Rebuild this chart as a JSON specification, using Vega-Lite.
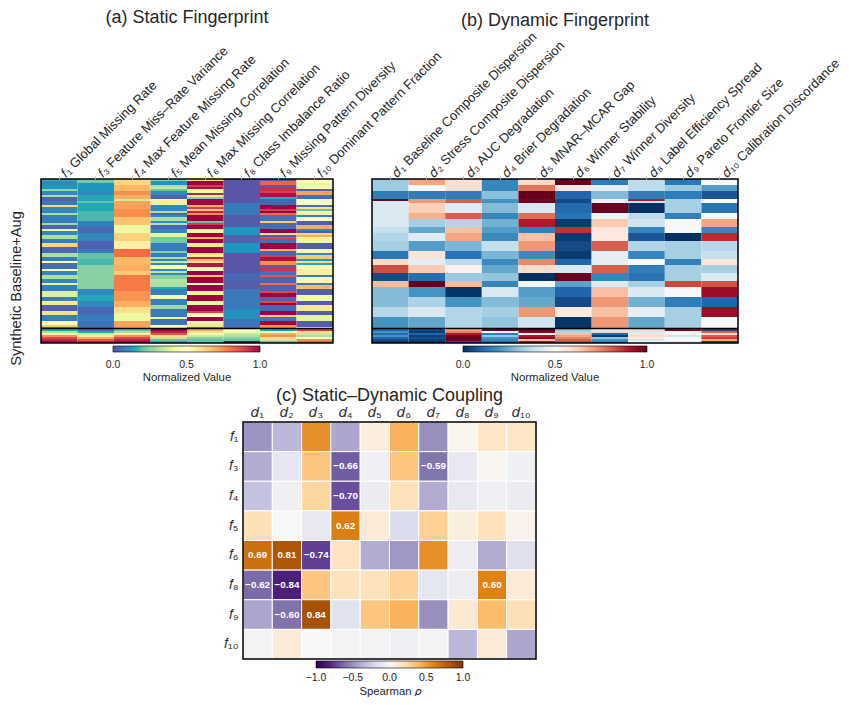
{"$schema":"https://vega.github.io/schema/vega-lite/v6.json","background":"white","padding":{"left":8,"top":9,"right":0,"bottom":0},"spacing":3,"resolve":{"scale":{"color":"independent"},"legend":{"color":"independent"}},"config":{"font":"Liberation Sans","view":{"stroke":null},"axis":{"labelColor":"#262626","titleColor":"#262626","labelFont":"Liberation Sans"},"legend":{"labelColor":"#262626","titleColor":"#262626"},"title":{"color":"#262626","font":"Liberation Sans","fontWeight":"normal","fontSize":18}},
"datasets":{
"staticCells":[
{"c":"f1","r0":0,"r1":1,"v":0.16},{"c":"f1","r0":1,"r1":3,"v":0.1},{"c":"f1","r0":3,"r1":5,"v":0.12},{"c":"f1","r0":5,"r1":6,"v":0.27},{"c":"f1","r0":6,"r1":8,"v":0.1},{"c":"f1","r0":8,"r1":9,"v":0.3},{"c":"f1","r0":9,"r1":11,"v":0.03},{"c":"f1","r0":11,"r1":13,"v":0.08},{"c":"f1","r0":13,"r1":14,"v":0.62},{"c":"f1","r0":14,"r1":17,"v":0.1},{"c":"f1","r0":17,"r1":18,"v":0.3},{"c":"f1","r0":18,"r1":22,"v":0.08},{"c":"f1","r0":22,"r1":23,"v":0.28},{"c":"f1","r0":23,"r1":25,"v":0.03},{"c":"f1","r0":25,"r1":26,"v":0.42},{"c":"f1","r0":26,"r1":28,"v":0.1},{"c":"f1","r0":28,"r1":30,"v":0.3},{"c":"f1","r0":30,"r1":32,"v":0.08},{"c":"f1","r0":32,"r1":34,"v":0.62},{"c":"f1","r0":34,"r1":37,"v":0.04},{"c":"f1","r0":37,"r1":39,"v":0.3},{"c":"f1","r0":39,"r1":41,"v":0.08},{"c":"f1","r0":41,"r1":42,"v":0.48},{"c":"f1","r0":42,"r1":45,"v":0.05},{"c":"f1","r0":45,"r1":46,"v":0.5},{"c":"f1","r0":46,"r1":48,"v":0.1},{"c":"f1","r0":48,"r1":50,"v":0.3},{"c":"f1","r0":50,"r1":52,"v":0.1},{"c":"f1","r0":52,"r1":53,"v":0.4},{"c":"f1","r0":53,"r1":56,"v":0.08},{"c":"f1","r0":56,"r1":59,"v":0.38},{"c":"f1","r0":59,"r1":61,"v":0.08},{"c":"f1","r0":61,"r1":63,"v":0.58},{"c":"f1","r0":63,"r1":66,"v":0.03},{"c":"f1","r0":66,"r1":68,"v":0.6},{"c":"f1","r0":68,"r1":71,"v":0.08},{"c":"f1","r0":71,"r1":73,"v":0.5},{"c":"f1","r0":73,"r1":74,"v":0.65},{"c":"f1","r0":74,"r1":75,"v":0.08},{"c":"f1","r0":75,"r1":76,"v":0.15},{"c":"f1","r0":76,"r1":77,"v":0.3},{"c":"f1","r0":77,"r1":78,"v":0.55},{"c":"f1","r0":78,"r1":79,"v":0.75},{"c":"f1","r0":79,"r1":80,"v":0.88},{"c":"f1","r0":80,"r1":81,"v":0.95},{"c":"f1","r0":81,"r1":82,"v":1},
{"c":"f3","r0":0,"r1":2,"v":0.22},{"c":"f3","r0":2,"r1":6,"v":0.12},{"c":"f3","r0":6,"r1":8,"v":0.1},{"c":"f3","r0":8,"r1":11,"v":0.15},{"c":"f3","r0":11,"r1":12,"v":0.2},{"c":"f3","r0":12,"r1":16,"v":0.15},{"c":"f3","r0":16,"r1":21,"v":0.18},{"c":"f3","r0":21,"r1":24,"v":0.08},{"c":"f3","r0":24,"r1":27,"v":0.04},{"c":"f3","r0":27,"r1":31,"v":0.1},{"c":"f3","r0":31,"r1":35,"v":0.03},{"c":"f3","r0":35,"r1":37,"v":0.07},{"c":"f3","r0":37,"r1":40,"v":0.2},{"c":"f3","r0":40,"r1":43,"v":0.18},{"c":"f3","r0":43,"r1":55,"v":0.25},{"c":"f3","r0":55,"r1":58,"v":0.1},{"c":"f3","r0":58,"r1":61,"v":0.15},{"c":"f3","r0":61,"r1":64,"v":0.1},{"c":"f3","r0":64,"r1":68,"v":0.04},{"c":"f3","r0":68,"r1":71,"v":0.08},{"c":"f3","r0":71,"r1":75,"v":0.06},{"c":"f3","r0":75,"r1":76,"v":0.05},{"c":"f3","r0":76,"r1":77,"v":0.15},{"c":"f3","r0":77,"r1":78,"v":0.35},{"c":"f3","r0":78,"r1":79,"v":0.55},{"c":"f3","r0":79,"r1":80,"v":0.7},{"c":"f3","r0":80,"r1":81,"v":0.85},{"c":"f3","r0":81,"r1":82,"v":0.95},
{"c":"f4","r0":0,"r1":3,"v":0.62},{"c":"f4","r0":3,"r1":6,"v":0.68},{"c":"f4","r0":6,"r1":8,"v":0.75},{"c":"f4","r0":8,"r1":10,"v":0.7},{"c":"f4","r0":10,"r1":11,"v":0.36},{"c":"f4","r0":11,"r1":15,"v":0.72},{"c":"f4","r0":15,"r1":19,"v":0.75},{"c":"f4","r0":19,"r1":23,"v":0.66},{"c":"f4","r0":23,"r1":27,"v":0.43},{"c":"f4","r0":27,"r1":31,"v":0.63},{"c":"f4","r0":31,"r1":35,"v":0.55},{"c":"f4","r0":35,"r1":39,"v":0.8},{"c":"f4","r0":39,"r1":43,"v":0.68},{"c":"f4","r0":43,"r1":46,"v":0.7},{"c":"f4","r0":46,"r1":48,"v":0.65},{"c":"f4","r0":48,"r1":56,"v":0.78},{"c":"f4","r0":56,"r1":61,"v":0.74},{"c":"f4","r0":61,"r1":64,"v":0.7},{"c":"f4","r0":64,"r1":67,"v":0.6},{"c":"f4","r0":67,"r1":71,"v":0.43},{"c":"f4","r0":71,"r1":75,"v":0.72},{"c":"f4","r0":75,"r1":76,"v":0.2},{"c":"f4","r0":76,"r1":77,"v":0.3},{"c":"f4","r0":77,"r1":78,"v":0.55},{"c":"f4","r0":78,"r1":79,"v":0.75},{"c":"f4","r0":79,"r1":80,"v":0.88},{"c":"f4","r0":80,"r1":81,"v":0.95},{"c":"f4","r0":81,"r1":82,"v":1},
{"c":"f5","r0":0,"r1":1,"v":0.25},{"c":"f5","r0":1,"r1":3,"v":0.12},{"c":"f5","r0":3,"r1":4,"v":0.3},{"c":"f5","r0":4,"r1":5,"v":0.35},{"c":"f5","r0":5,"r1":6,"v":0.2},{"c":"f5","r0":6,"r1":8,"v":0.1},{"c":"f5","r0":8,"r1":10,"v":0.03},{"c":"f5","r0":10,"r1":13,"v":0.55},{"c":"f5","r0":13,"r1":16,"v":0.1},{"c":"f5","r0":16,"r1":17,"v":0.3},{"c":"f5","r0":17,"r1":18,"v":0.03},{"c":"f5","r0":18,"r1":19,"v":0.1},{"c":"f5","r0":19,"r1":21,"v":0.3},{"c":"f5","r0":21,"r1":22,"v":0.1},{"c":"f5","r0":22,"r1":23,"v":0.32},{"c":"f5","r0":23,"r1":25,"v":0.03},{"c":"f5","r0":25,"r1":27,"v":0.1},{"c":"f5","r0":27,"r1":29,"v":0.4},{"c":"f5","r0":29,"r1":32,"v":0.22},{"c":"f5","r0":32,"r1":36,"v":0.08},{"c":"f5","r0":36,"r1":37,"v":0.25},{"c":"f5","r0":37,"r1":39,"v":0.08},{"c":"f5","r0":39,"r1":40,"v":0.3},{"c":"f5","r0":40,"r1":41,"v":0.1},{"c":"f5","r0":41,"r1":42,"v":0.35},{"c":"f5","r0":42,"r1":43,"v":0.1},{"c":"f5","r0":43,"r1":45,"v":0.48},{"c":"f5","r0":45,"r1":46,"v":0.1},{"c":"f5","r0":46,"r1":47,"v":0.35},{"c":"f5","r0":47,"r1":48,"v":0.1},{"c":"f5","r0":48,"r1":50,"v":0.25},{"c":"f5","r0":50,"r1":52,"v":0.32},{"c":"f5","r0":52,"r1":54,"v":0.3},{"c":"f5","r0":54,"r1":55,"v":0.15},{"c":"f5","r0":55,"r1":58,"v":0.08},{"c":"f5","r0":58,"r1":60,"v":0.53},{"c":"f5","r0":60,"r1":63,"v":0.08},{"c":"f5","r0":63,"r1":65,"v":0.28},{"c":"f5","r0":65,"r1":69,"v":0.07},{"c":"f5","r0":69,"r1":70,"v":0.4},{"c":"f5","r0":70,"r1":73,"v":0.06},{"c":"f5","r0":73,"r1":75,"v":0.5},{"c":"f5","r0":75,"r1":76,"v":1},{"c":"f5","r0":76,"r1":77,"v":0.95},{"c":"f5","r0":77,"r1":78,"v":0.85},{"c":"f5","r0":78,"r1":79,"v":0.6},{"c":"f5","r0":79,"r1":80,"v":0.35},{"c":"f5","r0":80,"r1":81,"v":0.2},{"c":"f5","r0":81,"r1":82,"v":0.15},
{"c":"f6","r0":0,"r1":1,"v":0.6},{"c":"f6","r0":1,"r1":3,"v":1},{"c":"f6","r0":3,"r1":4,"v":0.9},{"c":"f6","r0":4,"r1":5,"v":0.98},{"c":"f6","r0":5,"r1":6,"v":0.55},{"c":"f6","r0":6,"r1":7,"v":0.45},{"c":"f6","r0":7,"r1":8,"v":0.95},{"c":"f6","r0":8,"r1":9,"v":0.4},{"c":"f6","r0":9,"r1":10,"v":0.25},{"c":"f6","r0":10,"r1":13,"v":1},{"c":"f6","r0":13,"r1":14,"v":0.7},{"c":"f6","r0":14,"r1":15,"v":0.9},{"c":"f6","r0":15,"r1":16,"v":0.65},{"c":"f6","r0":16,"r1":17,"v":0.95},{"c":"f6","r0":17,"r1":18,"v":0.75},{"c":"f6","r0":18,"r1":21,"v":1},{"c":"f6","r0":21,"r1":22,"v":0.2},{"c":"f6","r0":22,"r1":23,"v":0.9},{"c":"f6","r0":23,"r1":25,"v":1},{"c":"f6","r0":25,"r1":26,"v":0.55},{"c":"f6","r0":26,"r1":27,"v":0.45},{"c":"f6","r0":27,"r1":29,"v":1},{"c":"f6","r0":29,"r1":30,"v":0.7},{"c":"f6","r0":30,"r1":32,"v":1},{"c":"f6","r0":32,"r1":33,"v":0.4},{"c":"f6","r0":33,"r1":34,"v":0.6},{"c":"f6","r0":34,"r1":37,"v":1},{"c":"f6","r0":37,"r1":38,"v":0.6},{"c":"f6","r0":38,"r1":39,"v":0.4},{"c":"f6","r0":39,"r1":40,"v":0.95},{"c":"f6","r0":40,"r1":41,"v":0.7},{"c":"f6","r0":41,"r1":42,"v":0.6},{"c":"f6","r0":42,"r1":44,"v":0.97},{"c":"f6","r0":44,"r1":46,"v":0.52},{"c":"f6","r0":46,"r1":48,"v":1},{"c":"f6","r0":48,"r1":49,"v":0.65},{"c":"f6","r0":49,"r1":52,"v":1},{"c":"f6","r0":52,"r1":53,"v":0.5},{"c":"f6","r0":53,"r1":56,"v":1},{"c":"f6","r0":56,"r1":58,"v":0.55},{"c":"f6","r0":58,"r1":61,"v":1},{"c":"f6","r0":61,"r1":63,"v":0.42},{"c":"f6","r0":63,"r1":66,"v":1},{"c":"f6","r0":66,"r1":67,"v":0.9},{"c":"f6","r0":67,"r1":69,"v":0.5},{"c":"f6","r0":69,"r1":71,"v":1},{"c":"f6","r0":71,"r1":72,"v":0.5},{"c":"f6","r0":72,"r1":74,"v":0.58},{"c":"f6","r0":74,"r1":75,"v":0.85},{"c":"f6","r0":75,"r1":76,"v":0.7},{"c":"f6","r0":76,"r1":77,"v":0.6},{"c":"f6","r0":77,"r1":78,"v":0.45},{"c":"f6","r0":78,"r1":79,"v":0.35},{"c":"f6","r0":79,"r1":80,"v":0.25},{"c":"f6","r0":80,"r1":82,"v":0.2},
{"c":"f8","r0":0,"r1":12,"v":0.01},{"c":"f8","r0":12,"r1":18,"v":0.07},{"c":"f8","r0":18,"r1":24,"v":0.02},{"c":"f8","r0":24,"r1":28,"v":0.12},{"c":"f8","r0":28,"r1":32,"v":0.03},{"c":"f8","r0":32,"r1":37,"v":0.12},{"c":"f8","r0":37,"r1":47,"v":0.01},{"c":"f8","r0":47,"r1":51,"v":0.04},{"c":"f8","r0":51,"r1":55,"v":0.02},{"c":"f8","r0":55,"r1":65,"v":0.07},{"c":"f8","r0":65,"r1":70,"v":0.11},{"c":"f8","r0":70,"r1":75,"v":0.06},{"c":"f8","r0":75,"r1":76,"v":0.5},{"c":"f8","r0":76,"r1":77,"v":0.45},{"c":"f8","r0":77,"r1":78,"v":0.35},{"c":"f8","r0":78,"r1":79,"v":0.3},{"c":"f8","r0":79,"r1":80,"v":0.25},{"c":"f8","r0":80,"r1":81,"v":0.2},{"c":"f8","r0":81,"r1":82,"v":1},
{"c":"f9","r0":0,"r1":1,"v":0.02},{"c":"f9","r0":1,"r1":3,"v":0.82},{"c":"f9","r0":3,"r1":4,"v":0.02},{"c":"f9","r0":4,"r1":6,"v":0.93},{"c":"f9","r0":6,"r1":7,"v":0.9},{"c":"f9","r0":7,"r1":9,"v":0.98},{"c":"f9","r0":9,"r1":10,"v":0.15},{"c":"f9","r0":10,"r1":13,"v":0.04},{"c":"f9","r0":13,"r1":15,"v":1},{"c":"f9","r0":15,"r1":16,"v":0.9},{"c":"f9","r0":16,"r1":17,"v":1},{"c":"f9","r0":17,"r1":18,"v":0.8},{"c":"f9","r0":18,"r1":21,"v":0.05},{"c":"f9","r0":21,"r1":22,"v":0.65},{"c":"f9","r0":22,"r1":25,"v":0.05},{"c":"f9","r0":25,"r1":27,"v":1},{"c":"f9","r0":27,"r1":28,"v":0.6},{"c":"f9","r0":28,"r1":29,"v":0.03},{"c":"f9","r0":29,"r1":30,"v":0.88},{"c":"f9","r0":30,"r1":32,"v":0.05},{"c":"f9","r0":32,"r1":35,"v":1},{"c":"f9","r0":35,"r1":36,"v":0.7},{"c":"f9","r0":36,"r1":38,"v":0.03},{"c":"f9","r0":38,"r1":39,"v":0.9},{"c":"f9","r0":39,"r1":41,"v":0.98},{"c":"f9","r0":41,"r1":43,"v":0.75},{"c":"f9","r0":43,"r1":44,"v":0.03},{"c":"f9","r0":44,"r1":46,"v":0.92},{"c":"f9","r0":46,"r1":48,"v":0.06},{"c":"f9","r0":48,"r1":49,"v":0.85},{"c":"f9","r0":49,"r1":52,"v":0.03},{"c":"f9","r0":52,"r1":53,"v":0.8},{"c":"f9","r0":53,"r1":56,"v":0.03},{"c":"f9","r0":56,"r1":57,"v":0.88},{"c":"f9","r0":57,"r1":59,"v":1},{"c":"f9","r0":59,"r1":61,"v":0.03},{"c":"f9","r0":61,"r1":62,"v":0.88},{"c":"f9","r0":62,"r1":63,"v":1},{"c":"f9","r0":63,"r1":66,"v":0.04},{"c":"f9","r0":66,"r1":68,"v":1},{"c":"f9","r0":68,"r1":69,"v":0.65},{"c":"f9","r0":69,"r1":71,"v":0.06},{"c":"f9","r0":71,"r1":73,"v":1},{"c":"f9","r0":73,"r1":75,"v":0.75},{"c":"f9","r0":75,"r1":76,"v":0.15},{"c":"f9","r0":76,"r1":77,"v":0.5},{"c":"f9","r0":77,"r1":78,"v":0.7},{"c":"f9","r0":78,"r1":79,"v":0.75},{"c":"f9","r0":79,"r1":80,"v":0.6},{"c":"f9","r0":80,"r1":81,"v":0.35},{"c":"f9","r0":81,"r1":82,"v":0.2},
{"c":"f10","r0":0,"r1":2,"v":0.52},{"c":"f10","r0":2,"r1":3,"v":0.42},{"c":"f10","r0":3,"r1":5,"v":0.45},{"c":"f10","r0":5,"r1":6,"v":0.02},{"c":"f10","r0":6,"r1":8,"v":0.72},{"c":"f10","r0":8,"r1":10,"v":0.05},{"c":"f10","r0":10,"r1":13,"v":0.5},{"c":"f10","r0":13,"r1":14,"v":0.05},{"c":"f10","r0":14,"r1":15,"v":0.6},{"c":"f10","r0":15,"r1":16,"v":0.2},{"c":"f10","r0":16,"r1":17,"v":0.45},{"c":"f10","r0":17,"r1":18,"v":0.55},{"c":"f10","r0":18,"r1":19,"v":0.1},{"c":"f10","r0":19,"r1":21,"v":0.5},{"c":"f10","r0":21,"r1":23,"v":0.02},{"c":"f10","r0":23,"r1":25,"v":0.7},{"c":"f10","r0":25,"r1":26,"v":0.1},{"c":"f10","r0":26,"r1":27,"v":0.02},{"c":"f10","r0":27,"r1":28,"v":0.62},{"c":"f10","r0":28,"r1":29,"v":0.7},{"c":"f10","r0":29,"r1":32,"v":0.42},{"c":"f10","r0":32,"r1":35,"v":0.02},{"c":"f10","r0":35,"r1":37,"v":0.52},{"c":"f10","r0":37,"r1":38,"v":0.1},{"c":"f10","r0":38,"r1":40,"v":0.65},{"c":"f10","r0":40,"r1":41,"v":0.12},{"c":"f10","r0":41,"r1":42,"v":0.6},{"c":"f10","r0":42,"r1":43,"v":0.15},{"c":"f10","r0":43,"r1":45,"v":0.52},{"c":"f10","r0":45,"r1":48,"v":0.55},{"c":"f10","r0":48,"r1":49,"v":0.08},{"c":"f10","r0":49,"r1":52,"v":0.52},{"c":"f10","r0":52,"r1":53,"v":0.08},{"c":"f10","r0":53,"r1":55,"v":0.68},{"c":"f10","r0":55,"r1":58,"v":0.02},{"c":"f10","r0":58,"r1":61,"v":0.45},{"c":"f10","r0":61,"r1":63,"v":0.02},{"c":"f10","r0":63,"r1":66,"v":0.58},{"c":"f10","r0":66,"r1":68,"v":0.02},{"c":"f10","r0":68,"r1":71,"v":0.4},{"c":"f10","r0":71,"r1":74,"v":0.02},{"c":"f10","r0":74,"r1":75,"v":0.5},{"c":"f10","r0":75,"r1":76,"v":0.9},{"c":"f10","r0":76,"r1":77,"v":0.6},{"c":"f10","r0":77,"r1":78,"v":0.35},{"c":"f10","r0":78,"r1":79,"v":0.3},{"c":"f10","r0":79,"r1":80,"v":0.5},{"c":"f10","r0":80,"r1":81,"v":0.75},{"c":"f10","r0":81,"r1":82,"v":0.85}
],
"dynamicCells":[
{"c":"d1","r0":0,"r1":6,"v":0.32},{"c":"d1","r0":6,"r1":10,"v":0.15},{"c":"d1","r0":10,"r1":11,"v":0.98},{"c":"d1","r0":11,"r1":24,"v":0.42},{"c":"d1","r0":24,"r1":27,"v":0.38},{"c":"d1","r0":27,"r1":31,"v":0.35},{"c":"d1","r0":31,"r1":36,"v":0.33},{"c":"d1","r0":36,"r1":40,"v":0.14},{"c":"d1","r0":40,"r1":43,"v":0.6},{"c":"d1","r0":43,"r1":47,"v":0.83},{"c":"d1","r0":47,"r1":51,"v":0.05},{"c":"d1","r0":51,"r1":54,"v":0.66},{"c":"d1","r0":54,"r1":64,"v":0.28},{"c":"d1","r0":64,"r1":69,"v":0.36},{"c":"d1","r0":69,"r1":75,"v":0.2},{"c":"d1","r0":75,"r1":76,"v":0.1},{"c":"d1","r0":76,"r1":77,"v":0.2},{"c":"d1","r0":77,"r1":78,"v":0.12},{"c":"d1","r0":78,"r1":79,"v":0.2},{"c":"d1","r0":79,"r1":80,"v":0.1},{"c":"d1","r0":80,"r1":81,"v":0.05},{"c":"d1","r0":81,"r1":82,"v":0.02},
{"c":"d2","r0":0,"r1":3,"v":0.7},{"c":"d2","r0":3,"r1":6,"v":0.5},{"c":"d2","r0":6,"r1":10,"v":0.15},{"c":"d2","r0":10,"r1":12,"v":0.72},{"c":"d2","r0":12,"r1":17,"v":0.62},{"c":"d2","r0":17,"r1":20,"v":0.68},{"c":"d2","r0":20,"r1":24,"v":0.33},{"c":"d2","r0":24,"r1":27,"v":0.24},{"c":"d2","r0":27,"r1":31,"v":0.44},{"c":"d2","r0":31,"r1":36,"v":0.22},{"c":"d2","r0":36,"r1":40,"v":0.57},{"c":"d2","r0":40,"r1":43,"v":0.45},{"c":"d2","r0":43,"r1":47,"v":0.63},{"c":"d2","r0":47,"r1":51,"v":0.12},{"c":"d2","r0":51,"r1":54,"v":1},{"c":"d2","r0":54,"r1":59,"v":0.2},{"c":"d2","r0":59,"r1":64,"v":0.34},{"c":"d2","r0":64,"r1":69,"v":0.42},{"c":"d2","r0":69,"r1":75,"v":0.24},{"c":"d2","r0":75,"r1":76,"v":0.05},{"c":"d2","r0":76,"r1":77,"v":0.02},{"c":"d2","r0":77,"r1":78,"v":0.1},{"c":"d2","r0":78,"r1":79,"v":0.03},{"c":"d2","r0":79,"r1":80,"v":0.06},{"c":"d2","r0":80,"r1":81,"v":0.03},{"c":"d2","r0":81,"r1":82,"v":0.01},
{"c":"d3","r0":0,"r1":6,"v":0.58},{"c":"d3","r0":6,"r1":10,"v":0.15},{"c":"d3","r0":10,"r1":12,"v":0.8},{"c":"d3","r0":12,"r1":17,"v":0.44},{"c":"d3","r0":17,"r1":20,"v":0.8},{"c":"d3","r0":20,"r1":24,"v":0.35},{"c":"d3","r0":24,"r1":27,"v":0.65},{"c":"d3","r0":27,"r1":31,"v":0.7},{"c":"d3","r0":31,"r1":36,"v":0.27},{"c":"d3","r0":36,"r1":40,"v":0.13},{"c":"d3","r0":40,"r1":43,"v":0.37},{"c":"d3","r0":43,"r1":47,"v":0.52},{"c":"d3","r0":47,"r1":51,"v":0.31},{"c":"d3","r0":51,"r1":54,"v":0.66},{"c":"d3","r0":54,"r1":59,"v":0.01},{"c":"d3","r0":59,"r1":64,"v":0.2},{"c":"d3","r0":64,"r1":75,"v":0.35},{"c":"d3","r0":75,"r1":76,"v":0.7},{"c":"d3","r0":76,"r1":77,"v":0.75},{"c":"d3","r0":77,"r1":78,"v":0.9},{"c":"d3","r0":78,"r1":79,"v":0.98},{"c":"d3","r0":79,"r1":81,"v":1},{"c":"d3","r0":81,"r1":82,"v":0.05},
{"c":"d4","r0":0,"r1":6,"v":0.17},{"c":"d4","r0":6,"r1":10,"v":0.29},{"c":"d4","r0":10,"r1":12,"v":0.2},{"c":"d4","r0":12,"r1":17,"v":0.28},{"c":"d4","r0":17,"r1":20,"v":0.17},{"c":"d4","r0":20,"r1":24,"v":0.26},{"c":"d4","r0":24,"r1":27,"v":0.22},{"c":"d4","r0":27,"r1":31,"v":0.18},{"c":"d4","r0":31,"r1":36,"v":0.38},{"c":"d4","r0":36,"r1":40,"v":0.27},{"c":"d4","r0":40,"r1":43,"v":0.18},{"c":"d4","r0":43,"r1":47,"v":0.24},{"c":"d4","r0":47,"r1":51,"v":0.3},{"c":"d4","r0":51,"r1":54,"v":0.17},{"c":"d4","r0":54,"r1":59,"v":0.42},{"c":"d4","r0":59,"r1":64,"v":0.28},{"c":"d4","r0":64,"r1":69,"v":0.33},{"c":"d4","r0":69,"r1":75,"v":0.3},{"c":"d4","r0":75,"r1":76,"v":1},{"c":"d4","r0":76,"r1":77,"v":0.5},{"c":"d4","r0":77,"r1":78,"v":0.15},{"c":"d4","r0":78,"r1":79,"v":0.3},{"c":"d4","r0":79,"r1":80,"v":0.2},{"c":"d4","r0":80,"r1":81,"v":0.17},{"c":"d4","r0":81,"r1":82,"v":0.12},
{"c":"d5","r0":0,"r1":3,"v":0.6},{"c":"d5","r0":3,"r1":6,"v":0.77},{"c":"d5","r0":6,"r1":10,"v":1},{"c":"d5","r0":10,"r1":12,"v":0.98},{"c":"d5","r0":12,"r1":17,"v":0.42},{"c":"d5","r0":17,"r1":20,"v":0.78},{"c":"d5","r0":20,"r1":24,"v":0.9},{"c":"d5","r0":24,"r1":27,"v":0.16},{"c":"d5","r0":27,"r1":31,"v":0.65},{"c":"d5","r0":31,"r1":36,"v":0.72},{"c":"d5","r0":36,"r1":40,"v":0.18},{"c":"d5","r0":40,"r1":43,"v":0.74},{"c":"d5","r0":43,"r1":47,"v":0.59},{"c":"d5","r0":47,"r1":51,"v":0},{"c":"d5","r0":51,"r1":54,"v":0.5},{"c":"d5","r0":54,"r1":59,"v":0.22},{"c":"d5","r0":59,"r1":64,"v":0.24},{"c":"d5","r0":64,"r1":69,"v":0.72},{"c":"d5","r0":69,"r1":75,"v":0.4},{"c":"d5","r0":75,"r1":76,"v":1},{"c":"d5","r0":76,"r1":77,"v":0.95},{"c":"d5","r0":77,"r1":78,"v":0.5},{"c":"d5","r0":78,"r1":79,"v":0.9},{"c":"d5","r0":79,"r1":80,"v":0.95},{"c":"d5","r0":80,"r1":81,"v":0.65},{"c":"d5","r0":81,"r1":82,"v":0.9},
{"c":"d6","r0":0,"r1":3,"v":1},{"c":"d6","r0":3,"r1":6,"v":0.55},{"c":"d6","r0":6,"r1":10,"v":0.1},{"c":"d6","r0":10,"r1":12,"v":0.05},{"c":"d6","r0":12,"r1":17,"v":0.11},{"c":"d6","r0":17,"r1":20,"v":0.13},{"c":"d6","r0":20,"r1":24,"v":0.02},{"c":"d6","r0":24,"r1":27,"v":0.87},{"c":"d6","r0":27,"r1":31,"v":0.02},{"c":"d6","r0":31,"r1":36,"v":0.05},{"c":"d6","r0":36,"r1":40,"v":0.02},{"c":"d6","r0":40,"r1":43,"v":0.1},{"c":"d6","r0":43,"r1":47,"v":0.42},{"c":"d6","r0":47,"r1":51,"v":1},{"c":"d6","r0":51,"r1":54,"v":0.23},{"c":"d6","r0":54,"r1":59,"v":0.1},{"c":"d6","r0":59,"r1":64,"v":0.05},{"c":"d6","r0":64,"r1":69,"v":0.55},{"c":"d6","r0":69,"r1":75,"v":0.01},{"c":"d6","r0":75,"r1":76,"v":0.3},{"c":"d6","r0":76,"r1":77,"v":0.35},{"c":"d6","r0":77,"r1":78,"v":0.65},{"c":"d6","r0":78,"r1":79,"v":0.7},{"c":"d6","r0":79,"r1":80,"v":0.75},{"c":"d6","r0":80,"r1":81,"v":0.8},{"c":"d6","r0":81,"r1":82,"v":0.15},
{"c":"d7","r0":0,"r1":3,"v":0.15},{"c":"d7","r0":3,"r1":6,"v":0.45},{"c":"d7","r0":6,"r1":10,"v":0.28},{"c":"d7","r0":10,"r1":12,"v":0.47},{"c":"d7","r0":12,"r1":17,"v":1},{"c":"d7","r0":17,"r1":20,"v":0.47},{"c":"d7","r0":20,"r1":24,"v":0.63},{"c":"d7","r0":24,"r1":31,"v":0.55},{"c":"d7","r0":31,"r1":36,"v":0.8},{"c":"d7","r0":36,"r1":43,"v":0.45},{"c":"d7","r0":43,"r1":47,"v":0.8},{"c":"d7","r0":47,"r1":51,"v":0.17},{"c":"d7","r0":51,"r1":54,"v":0.43},{"c":"d7","r0":54,"r1":59,"v":0.65},{"c":"d7","r0":59,"r1":64,"v":0.72},{"c":"d7","r0":64,"r1":69,"v":0.65},{"c":"d7","r0":69,"r1":75,"v":0.72},{"c":"d7","r0":75,"r1":76,"v":0.45},{"c":"d7","r0":76,"r1":77,"v":0.6},{"c":"d7","r0":77,"r1":78,"v":0.1},{"c":"d7","r0":78,"r1":79,"v":0.02},{"c":"d7","r0":79,"r1":80,"v":0.3},{"c":"d7","r0":80,"r1":81,"v":0.2},{"c":"d7","r0":81,"r1":82,"v":0.15},
{"c":"d8","r0":0,"r1":6,"v":0.37},{"c":"d8","r0":6,"r1":10,"v":0.15},{"c":"d8","r0":10,"r1":11,"v":0.9},{"c":"d8","r0":11,"r1":12,"v":0.4},{"c":"d8","r0":12,"r1":17,"v":0},{"c":"d8","r0":17,"r1":20,"v":0.37},{"c":"d8","r0":20,"r1":24,"v":0.4},{"c":"d8","r0":24,"r1":27,"v":0.17},{"c":"d8","r0":27,"r1":31,"v":0.07},{"c":"d8","r0":31,"r1":36,"v":0.35},{"c":"d8","r0":36,"r1":40,"v":0.17},{"c":"d8","r0":40,"r1":43,"v":0.5},{"c":"d8","r0":43,"r1":47,"v":0.15},{"c":"d8","r0":47,"r1":51,"v":0.13},{"c":"d8","r0":51,"r1":54,"v":0.33},{"c":"d8","r0":54,"r1":59,"v":0.42},{"c":"d8","r0":59,"r1":64,"v":0.26},{"c":"d8","r0":64,"r1":69,"v":0.45},{"c":"d8","r0":69,"r1":75,"v":0.24},{"c":"d8","r0":75,"r1":76,"v":0.6},{"c":"d8","r0":76,"r1":77,"v":0.4},{"c":"d8","r0":77,"r1":78,"v":0.55},{"c":"d8","r0":78,"r1":79,"v":0.6},{"c":"d8","r0":79,"r1":80,"v":0.55},{"c":"d8","r0":80,"r1":81,"v":0.4},{"c":"d8","r0":81,"r1":82,"v":0.5},
{"c":"d9","r0":0,"r1":3,"v":0.14},{"c":"d9","r0":3,"r1":6,"v":0.32},{"c":"d9","r0":6,"r1":10,"v":0.15},{"c":"d9","r0":10,"r1":17,"v":0.33},{"c":"d9","r0":17,"r1":20,"v":0.16},{"c":"d9","r0":20,"r1":27,"v":0.5},{"c":"d9","r0":27,"r1":31,"v":0},{"c":"d9","r0":31,"r1":40,"v":0.33},{"c":"d9","r0":40,"r1":43,"v":0.16},{"c":"d9","r0":43,"r1":51,"v":0.33},{"c":"d9","r0":51,"r1":54,"v":0.84},{"c":"d9","r0":54,"r1":59,"v":0.5},{"c":"d9","r0":59,"r1":64,"v":0.15},{"c":"d9","r0":64,"r1":75,"v":0.33},{"c":"d9","r0":75,"r1":76,"v":0.95},{"c":"d9","r0":76,"r1":78,"v":0.5},{"c":"d9","r0":78,"r1":79,"v":0.4},{"c":"d9","r0":79,"r1":81,"v":0.5},{"c":"d9","r0":81,"r1":82,"v":0.45},
{"c":"d10","r0":0,"r1":3,"v":0.5},{"c":"d10","r0":3,"r1":6,"v":0.22},{"c":"d10","r0":6,"r1":10,"v":0.07},{"c":"d10","r0":10,"r1":12,"v":0.5},{"c":"d10","r0":12,"r1":17,"v":0.13},{"c":"d10","r0":17,"r1":20,"v":0.5},{"c":"d10","r0":20,"r1":24,"v":0.7},{"c":"d10","r0":24,"r1":27,"v":0.17},{"c":"d10","r0":27,"r1":31,"v":0.88},{"c":"d10","r0":31,"r1":36,"v":0.36},{"c":"d10","r0":36,"r1":40,"v":0.38},{"c":"d10","r0":40,"r1":43,"v":0.56},{"c":"d10","r0":43,"r1":47,"v":0.33},{"c":"d10","r0":47,"r1":51,"v":0.42},{"c":"d10","r0":51,"r1":54,"v":0.82},{"c":"d10","r0":54,"r1":59,"v":0.93},{"c":"d10","r0":59,"r1":64,"v":0.1},{"c":"d10","r0":64,"r1":69,"v":0.93},{"c":"d10","r0":69,"r1":75,"v":0.5},{"c":"d10","r0":75,"r1":76,"v":0.05},{"c":"d10","r0":76,"r1":77,"v":0.8},{"c":"d10","r0":77,"r1":78,"v":0.6},{"c":"d10","r0":78,"r1":79,"v":0.8},{"c":"d10","r0":79,"r1":80,"v":0.85},{"c":"d10","r0":80,"r1":81,"v":0.7},{"c":"d10","r0":81,"r1":82,"v":0.05}
],
"coupling":[
{"f":"f1","d":"d1","v":-0.48},{"f":"f1","d":"d2","v":-0.35},{"f":"f1","d":"d3","v":0.55},{"f":"f1","d":"d4","v":-0.42},{"f":"f1","d":"d5","v":0.08},{"f":"f1","d":"d6","v":0.42},{"f":"f1","d":"d7","v":-0.5},{"f":"f1","d":"d8","v":0.03},{"f":"f1","d":"d9","v":0.15},{"f":"f1","d":"d10","v":0.15},
{"f":"f3","d":"d1","v":-0.4},{"f":"f3","d":"d2","v":-0.12},{"f":"f3","d":"d3","v":0.33},{"f":"f3","d":"d4","v":-0.66},{"f":"f3","d":"d5","v":-0.05},{"f":"f3","d":"d6","v":0.33},{"f":"f3","d":"d7","v":-0.59},{"f":"f3","d":"d8","v":-0.1},{"f":"f3","d":"d9","v":0.02},{"f":"f3","d":"d10","v":-0.05},
{"f":"f4","d":"d1","v":-0.3},{"f":"f4","d":"d2","v":-0.05},{"f":"f4","d":"d3","v":0.25},{"f":"f4","d":"d4","v":-0.7},{"f":"f4","d":"d5","v":-0.08},{"f":"f4","d":"d6","v":0.18},{"f":"f4","d":"d7","v":-0.4},{"f":"f4","d":"d8","v":-0.1},{"f":"f4","d":"d9","v":-0.05},{"f":"f4","d":"d10","v":-0.08},
{"f":"f5","d":"d1","v":0.2},{"f":"f5","d":"d2","v":0},{"f":"f5","d":"d3","v":-0.1},{"f":"f5","d":"d4","v":0.62},{"f":"f5","d":"d5","v":0.1},{"f":"f5","d":"d6","v":-0.18},{"f":"f5","d":"d7","v":0.28},{"f":"f5","d":"d8","v":0.08},{"f":"f5","d":"d9","v":0.18},{"f":"f5","d":"d10","v":0.04},
{"f":"f6","d":"d1","v":0.69},{"f":"f6","d":"d2","v":0.81},{"f":"f6","d":"d3","v":-0.74},{"f":"f6","d":"d4","v":0.17},{"f":"f6","d":"d5","v":-0.4},{"f":"f6","d":"d6","v":-0.47},{"f":"f6","d":"d7","v":0.55},{"f":"f6","d":"d8","v":-0.07},{"f":"f6","d":"d9","v":-0.4},{"f":"f6","d":"d10","v":-0.16},
{"f":"f8","d":"d1","v":-0.62},{"f":"f8","d":"d2","v":-0.84},{"f":"f8","d":"d3","v":0.33},{"f":"f8","d":"d4","v":0.18},{"f":"f8","d":"d5","v":0.18},{"f":"f8","d":"d6","v":0.27},{"f":"f8","d":"d7","v":-0.12},{"f":"f8","d":"d8","v":-0.07},{"f":"f8","d":"d9","v":0.6},{"f":"f8","d":"d10","v":0.1},
{"f":"f9","d":"d1","v":-0.42},{"f":"f9","d":"d2","v":-0.6},{"f":"f9","d":"d3","v":0.84},{"f":"f9","d":"d4","v":-0.14},{"f":"f9","d":"d5","v":0.33},{"f":"f9","d":"d6","v":0.42},{"f":"f9","d":"d7","v":-0.5},{"f":"f9","d":"d8","v":0.12},{"f":"f9","d":"d9","v":0.38},{"f":"f9","d":"d10","v":0.2},
{"f":"f10","d":"d1","v":-0.03},{"f":"f10","d":"d2","v":0.1},{"f":"f10","d":"d3","v":0},{"f":"f10","d":"d4","v":-0.03},{"f":"f10","d":"d5","v":-0.03},{"f":"f10","d":"d6","v":-0.06},{"f":"f10","d":"d7","v":-0.02},{"f":"f10","d":"d8","v":-0.35},{"f":"f10","d":"d9","v":0.1},{"f":"f10","d":"d10","v":-0.42}
]
},
"vconcat":[
{"resolve":{"scale":{"color":"independent"},"legend":{"color":"independent"}},"hconcat":[
{"width":292,"height":164,"title":{"text":"(a) Static Fingerprint","offset":17},
"layer":[
{"data":{"name":"staticCells"},"mark":{"type":"rect"},"encoding":{
"x":{"field":"c","type":"nominal","sort":null,"scale":{"domain":["f1","f3","f4","f5","f6","f8","f9","f10"],"paddingInner":0,"paddingOuter":0},"axis":{"orient":"top","title":null,"labelAngle":-45,"labelAlign":"left","labelBaseline":"top","labelFontSize":13.1,"labelOverlap":false,"labelPadding":6,"labelLimit":320,"domain":false,"tickColor":"#bbbbbb","tickSize":3,"labelExpr":"{f1:'𝑓₁ Global Missing Rate',f3:'𝑓₃ Feature Miss–Rate Variance',f4:'𝑓₄ Max Feature Missing Rate',f5:'𝑓₅ Mean Missing Correlation',f6:'𝑓₆ Max Missing Correlation',f8:'𝑓₈ Class Imbalance Ratio',f9:'𝑓₉ Missing Pattern Diversity',f10:'𝑓₁₀ Dominant Pattern Fraction'}[datum.value]"}},
"y":{"field":"r0","type":"quantitative","scale":{"domain":[0,82],"reverse":true,"nice":false,"zero":false},"axis":{"title":"Synthetic Baseline+Aug","titleFontSize":14.6,"titleFontWeight":"normal","titleX":-18,"titleY":109,"labels":false,"ticks":false,"domain":false,"grid":false}},
"y2":{"field":"r1"},
"color":{"field":"v","type":"quantitative","scale":{"domain":[0,0.1,0.2,0.3,0.4,0.5,0.6,0.7,0.8,0.9,1],"range":["#5e4fa2","#3288bd","#66c2a5","#abdda4","#e6f598","#ffffbf","#fee08b","#fdae61","#f46d43","#d53e4f","#9e0142"]},"legend":{"orient":"none","legendX":72,"legendY":167,"direction":"horizontal","gradientLength":147,"gradientThickness":6,"titleOrient":"bottom","titleAnchor":"middle","values":[0,0.5,1],"format":".1f","labelFontSize":10.5,"titleFontSize":11.3,"titleFontWeight":"normal","labelOffset":8,"titlePadding":1,"encoding":{"labels":{"align":{"value":"center"}}},"title":"Normalized Value","gradientStrokeColor":"#000000","gradientStrokeWidth":0.6}}}},
{"data":{"values":[{"sep":74.7}]},"mark":{"type":"rule","color":"#000000","strokeWidth":1.5},"encoding":{"y":{"field":"sep","type":"quantitative"}}},
{"data":{"values":[{"frame":1}]},"mark":{"type":"rect","fill":"transparent","stroke":"#000000","strokeWidth":1.5},"encoding":{}}
]},
{"width":366,"height":164,"title":{"text":"(b) Dynamic Fingerprint","offset":0},
"layer":[
{"data":{"name":"dynamicCells"},"mark":{"type":"rect"},"encoding":{
"x":{"field":"c","type":"nominal","sort":null,"scale":{"domain":["d1","d2","d3","d4","d5","d6","d7","d8","d9","d10"],"paddingInner":0,"paddingOuter":0},"axis":{"orient":"top","title":null,"labelAngle":-45,"labelAlign":"left","labelBaseline":"top","labelFontSize":13.1,"labelOverlap":false,"labelPadding":6,"labelLimit":320,"domain":false,"tickColor":"#bbbbbb","tickSize":3,"labelExpr":"{d1:'𝑑₁ Baseline Composite Dispersion',d2:'𝑑₂ Stress Composite Dispersion',d3:'𝑑₃ AUC Degradation',d4:'𝑑₄ Brier Degradation',d5:'𝑑₅ MNAR–MCAR Gap',d6:'𝑑₆ Winner Stability',d7:'𝑑₇ Winner Diversity',d8:'𝑑₈ Label Efficiency Spread',d9:'𝑑₉ Pareto Frontier Size',d10:'𝑑₁₀ Calibration Discordance'}[datum.value]"}},
"y":{"field":"r0","type":"quantitative","scale":{"domain":[0,82],"reverse":true,"nice":false,"zero":false},"axis":null},
"y2":{"field":"r1"},
"color":{"field":"v","type":"quantitative","scale":{"domain":[0,0.1,0.2,0.3,0.4,0.5,0.6,0.7,0.8,0.9,1],"range":["#053061","#2166ac","#4393c3","#92c5de","#d1e5f0","#f7f7f7","#fddbc7","#f4a582","#d6604d","#b2182b","#67001f"]},"legend":{"orient":"none","legendX":91,"legendY":167,"direction":"horizontal","gradientLength":184,"gradientThickness":6,"titleOrient":"bottom","titleAnchor":"middle","values":[0,0.5,1],"format":".1f","labelFontSize":10.5,"titleFontSize":11.3,"titleFontWeight":"normal","labelOffset":8,"titlePadding":1,"encoding":{"labels":{"align":{"value":"center"}}},"title":"Normalized Value","gradientStrokeColor":"#000000","gradientStrokeWidth":0.6}}}},
{"data":{"values":[{"sep":74.7}]},"mark":{"type":"rule","color":"#000000","strokeWidth":1.5},"encoding":{"y":{"field":"sep","type":"quantitative"}}},
{"data":{"values":[{"frame":1}]},"mark":{"type":"rect","fill":"transparent","stroke":"#000000","strokeWidth":1.5},"encoding":{}}
]}
],"bounds":"flush","spacing":39},
{"resolve":{"scale":{"color":"independent"},"legend":{"color":"independent"}},"hconcat":[
{"width":202,"height":10,"data":{"values":[{"spacer":1}]},"mark":{"type":"rect","opacity":0},"encoding":{}},
{"width":293,"height":237,"title":{"text":"(c) Static–Dynamic Coupling","offset":0},
"data":{"name":"coupling"},
"layer":[
{"mark":{"type":"rect","stroke":"#ffffff","strokeWidth":1},"encoding":{
"x":{"field":"d","type":"nominal","sort":null,"scale":{"domain":["d1","d2","d3","d4","d5","d6","d7","d8","d9","d10"],"paddingInner":0,"paddingOuter":0},"axis":{"orient":"top","title":null,"labelAngle":0,"labelFontSize":14,"labelPadding":3,"domain":false,"ticks":false,"labelExpr":"{d1:'𝑑₁',d2:'𝑑₂',d3:'𝑑₃',d4:'𝑑₄',d5:'𝑑₅',d6:'𝑑₆',d7:'𝑑₇',d8:'𝑑₈',d9:'𝑑₉',d10:'𝑑₁₀'}[datum.value]"}},
"y":{"field":"f","type":"nominal","sort":null,"scale":{"domain":["f1","f3","f4","f5","f6","f8","f9","f10"],"paddingInner":0,"paddingOuter":0},"axis":{"title":null,"labelFontSize":14,"labelPadding":5,"domain":false,"ticks":false,"labelExpr":"{f1:'𝑓₁',f3:'𝑓₃',f4:'𝑓₄',f5:'𝑓₅',f6:'𝑓₆',f8:'𝑓₈',f9:'𝑓₉',f10:'𝑓₁₀'}[datum.value]"}},
"color":{"field":"v","type":"quantitative","scale":{"domain":[-1,-0.8,-0.6,-0.4,-0.2,0,0.2,0.4,0.6,0.8,1],"range":["#2d004b","#542788","#8073ac","#b2abd2","#d8daeb","#f7f7f7","#fee0b6","#fdb863","#e08214","#b35806","#7f3b08"]},"legend":{"orient":"none","legendX":73,"legendY":239,"direction":"horizontal","gradientLength":147,"gradientThickness":7,"titleOrient":"bottom","titleAnchor":"middle","values":[-1,-0.5,0,0.5,1],"format":".1f","labelFontSize":10.5,"titleFontSize":11.3,"titleFontWeight":"normal","labelOffset":5,"titlePadding":2,"encoding":{"labels":{"align":{"value":"center"}}},"title":"Spearman 𝜌","gradientStrokeColor":"#000000","gradientStrokeWidth":0.6}}}},
{"transform":[{"filter":"abs(datum.v)>=0.59"}],"mark":{"type":"text","color":"#ffffff","fontWeight":"bold","fontSize":9.8,"font":"Liberation Sans"},"encoding":{
"x":{"field":"d","type":"nominal","sort":null},"y":{"field":"f","type":"nominal","sort":null},"text":{"field":"v","type":"quantitative","format":".2f"}}},
{"data":{"values":[{"frame":1}]},"mark":{"type":"rect","fill":"transparent","stroke":"#000000","strokeWidth":1.5},"encoding":{}}
]}
],"bounds":"flush","spacing":0}
]}
